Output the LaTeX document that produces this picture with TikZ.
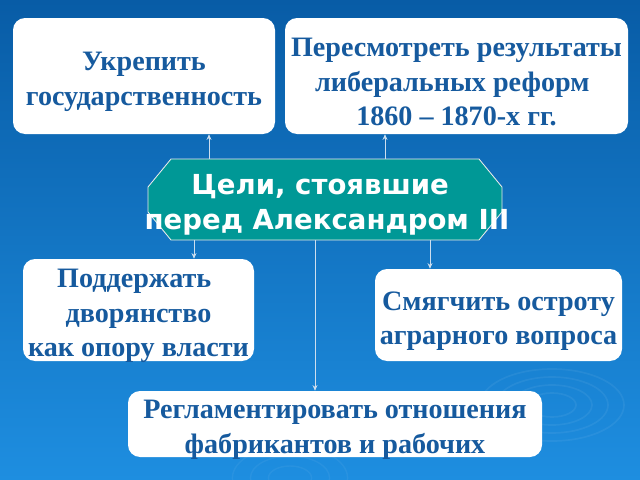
\documentclass[tikz,border=0pt]{standalone}
\usepackage{fontspec}
\setmainfont{Liberation Serif}
\newfontfamily\goalfont{DejaVu Sans}
\usepackage{tikz}
\usetikzlibrary{arrows.meta}

\definecolor{slideTop}{RGB}{8,92,166}
\definecolor{slideBottom}{RGB}{30,142,224}
\definecolor{boxText}{RGB}{22,90,158}
\definecolor{goalTeal}{RGB}{0,152,150}
\definecolor{linkGray}{RGB}{205,222,238}

\begin{document}
\begin{tikzpicture}[x=0.025cm, y=-0.025cm,
  goalbox/.style={rectangle, rounded corners=0.3cm, fill=white, inner sep=0pt},
  goaltext/.style={inner sep=0pt, align=center, text=boxText,
    font=\fontsize{20}{24.6}\selectfont\bfseries},
  maintext/.style={inner sep=0pt, align=center, text=white,
    font=\goalfont\fontsize{19.6}{24.8}\selectfont\bfseries},
  link/.style={draw=linkGray, line width=0.6pt, -{Stealth[length=4pt,width=3.5pt]}}]
%%%%% Background %%%%%
\useasboundingbox (0,0) rectangle (640,480);
\shade[top color=slideTop, bottom color=slideBottom] (0,0) rectangle (640,480);
\foreach \r in {12,20,28,36}{
\draw[white, opacity=0.06, line width=1.2pt] (552,405) ellipse ({\r*2} and \r);
}
\foreach \r in {12,22,32}{
\draw[white, opacity=0.05, line width=1pt] (290,478) ellipse ({\r*1.8} and \r);
}
%%%%% Centre %%%%%
\draw[fill=goalTeal, draw=white!85!gray, line width=0.6pt]
  (171,159) -- (479,159) -- (502,187) -- (502,212) -- (479,240)
  -- (171,240) -- (148,212) -- (148,187) -- cycle;
\node[minimum width=354*0.025cm, minimum height=81*0.025cm, inner sep=0pt] (cent) at (325,199.5) {};
\node[maintext] (centtext) at (327,205) {Цели, стоявшие\hspace*{0.5em} \\ перед Александром III};
%%%%% Boxes %%%%%
\node[goalbox, minimum width=262*0.025cm, minimum height=116*0.025cm] (ukr) at (144,76) {};
\node[goaltext] (ukrtext) at ([yshift=-6*0.025cm]ukr) {Укрепить\\государственность};
\node[goalbox, minimum width=343*0.025cm, minimum height=116*0.025cm] (per) at (456.5,76) {};
\node[goaltext] (pertext) at ([yshift=-6*0.025cm]per) {Пересмотреть результаты\\либеральных реформ\hspace*{0.3em} \\ 1860 -- 1870-х гг.};
\node[goalbox, minimum width=231*0.025cm, minimum height=102*0.025cm] (dvor) at (138.5,310) {};
\node[goaltext] (dvortext) at ([yshift=-6*0.025cm]dvor) {Поддержать\hspace*{0.3em}\\дворянство\\как опору власти};
\node[goalbox, minimum width=247*0.025cm, minimum height=92*0.025cm] (agr) at (498.5,315) {};
\node[goaltext] (agrtext) at ([yshift=-6*0.025cm]agr) {Смягчить остроту\\аграрного вопроса};
\node[goalbox, minimum width=414*0.025cm, minimum height=66*0.025cm] (regl) at (335,424) {};
\node[goaltext] (regltext) at ([yshift=-6*0.025cm]regl) {Регламентировать отношения\\фабрикантов и рабочих};
%%%%% Arrows %%%%%
\foreach \xx/\goal in {209/ukr,385/per}{
\draw[link] (cent.north -| \xx,0) -- (\goal.south -| \xx,0);
}
\foreach \xx/\goal in {194/dvor,315/regl,430/agr}{
\draw[link] (cent.south -| \xx,0) -- (\goal.north -| \xx,0);
}
\end{tikzpicture}
\end{document}
